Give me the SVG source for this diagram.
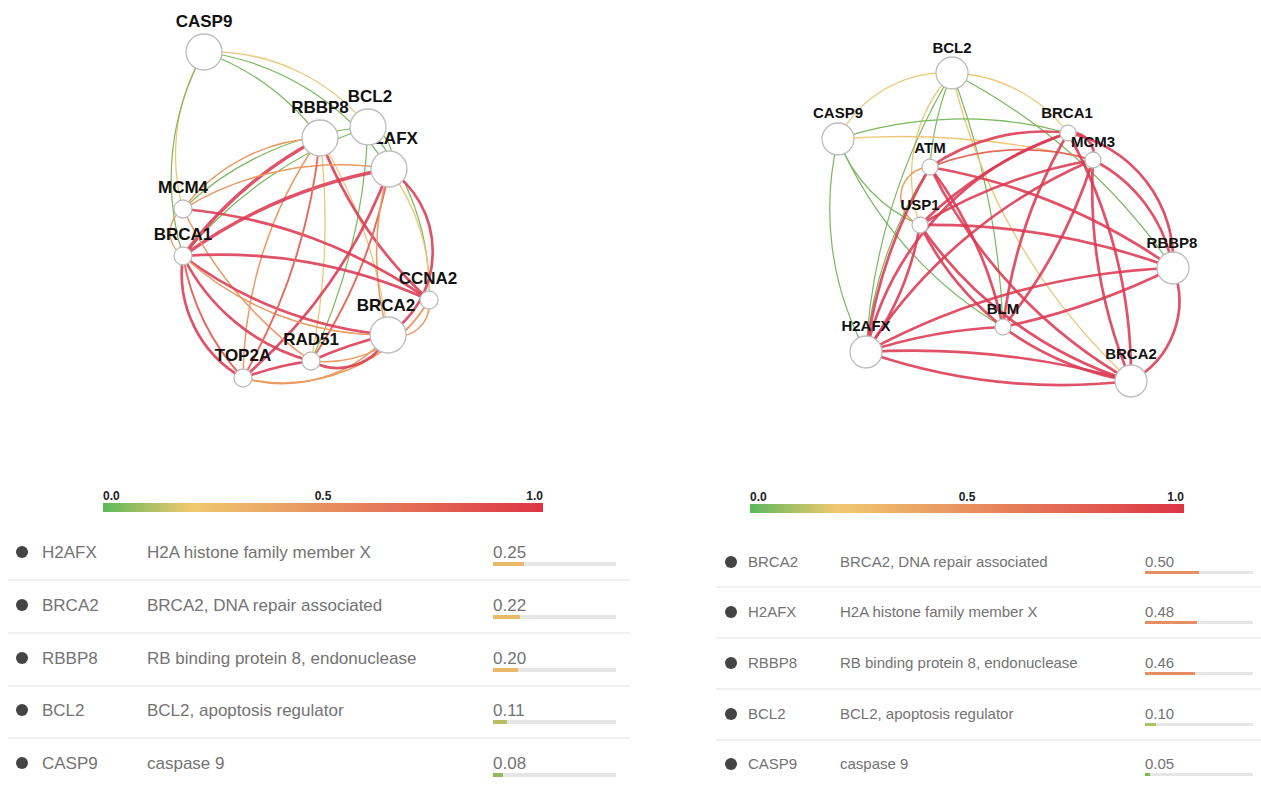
<svg xmlns="http://www.w3.org/2000/svg" width="1261" height="787" viewBox="0 0 1261 787">
<defs>
<linearGradient id="grad" x1="0" y1="0" x2="1" y2="0">
<stop offset="0" stop-color="#5cb85c"/>
<stop offset="0.2" stop-color="#f0c96f"/>
<stop offset="0.5" stop-color="#e8915f"/>
<stop offset="1" stop-color="#dc3545"/>
</linearGradient>
<style>
.e{fill:none;stroke-linecap:round}
.g{stroke:#7ab85e;stroke-width:1.2}
.y{stroke:#edc777;stroke-width:1.3}
.o{stroke:#eb9a62;stroke-width:1.5}
.ro{stroke:#e66a5c;stroke-width:1.9}
.r{stroke:#dc3a52;stroke-width:2.7;stroke-opacity:0.88}
.rt{stroke:#dc3a52;stroke-width:3.4;stroke-opacity:0.88}
.n{fill:#fff;stroke:#bdbdbd;stroke-width:1.3}
.lbl{font-family:"Liberation Sans",Arial,sans-serif;font-weight:bold;fill:#111;text-anchor:middle}
.l1{font-size:17px}
.l2{font-size:15px}
.leg{font-family:"Liberation Sans",Arial,sans-serif;font-weight:bold;font-size:12px;fill:#222}
.t{font-family:"Liberation Sans",Arial,sans-serif;fill:#737373}
.t1{font-size:17px}
.t2{font-size:15px}
.dot{fill:#444}
.sep{stroke:#ececec;stroke-width:1.5}
.track{fill:#e6e6e6}
</style>
</defs>
<rect width="1261" height="787" fill="#fff"/>

<!-- LEFT GRAPH -->
<g id="left-edges">
<path class="e y" d="M204 52 A200 200 0 0 1 368 127"/>
<path class="e g" d="M204 52 A250 250 0 0 1 320 138"/>
<path class="e g" d="M204 52 A260 260 0 0 1 389 169"/>
<path class="e y" d="M204 52 A200 200 0 0 0 183 209"/>
<path class="e g" d="M204 52 A260 260 0 0 0 183 256"/>
<path class="e g" d="M368 127 A30 30 0 0 1 389 169"/>
<path class="e g" d="M368 127 A250 250 0 0 1 429 300"/>
<path class="e y" d="M389 169 A200 200 0 0 1 429 300"/>
<path class="e g" d="M368 127 A300 300 0 0 0 183 209"/>
<path class="e g" d="M368 127 A420 420 0 0 0 183 256"/>
<path class="e g" d="M368 127 A600 600 0 0 1 311 361"/>
<path class="e o" d="M320 138 A180 180 0 0 0 183 209"/>
<path class="e rt" d="M320 138 A400 400 0 0 0 183 256"/>
<path class="e y" d="M320 138 A700 700 0 0 1 311 361"/>
<path class="e o" d="M320 138 A420 420 0 0 0 243 378"/>
<path class="e y" d="M320 138 A500 500 0 0 1 388 335"/>
<path class="e r" d="M320 138 A420 420 0 0 0 429 300"/>
<path class="e o" d="M389 169 A300 300 0 0 0 183 209"/>
<path class="e rt" d="M389 169 A500 500 0 0 0 183 256"/>
<path class="e r" d="M389 169 A500 500 0 0 1 243 378"/>
<path class="e ro" d="M389 169 A500 500 0 0 1 311 361"/>
<path class="e r" d="M389 169 A100 100 0 0 1 388 335"/>
<path class="e o" d="M389 169 A300 300 0 0 0 388 335"/>
<path class="e o" d="M183 209 A28 28 0 0 0 183 256"/>
<path class="e r" d="M183 209 A500 500 0 0 1 429 300"/>
<path class="e o" d="M183 209 A400 400 0 0 0 311 361"/>
<path class="e r" d="M183 256 A400 400 0 0 0 388 335"/>
<path class="e r" d="M183 256 A500 500 0 0 1 429 300"/>
<path class="e r" d="M183 256 A200 200 0 0 0 311 361"/>
<path class="e r" d="M183 256 A120 120 0 0 0 243 378"/>
<path class="e ro" d="M183 256 A240 240 0 0 0 243 378"/>
<path class="e o" d="M183 256 A300 300 0 0 0 388 335"/>
<path class="e r" d="M243 378 A300 300 0 0 1 311 361"/>
<path class="e o" d="M243 378 A140 140 0 0 0 388 335"/>
<path class="e o" d="M243 378 A170 170 0 0 0 429 300"/>
<path class="e ro" d="M243 378 A600 600 0 0 0 320 138"/>
<path class="e r" d="M311 361 A400 400 0 0 1 388 335"/>
<path class="e r" d="M311 361 A55 55 0 0 0 388 335"/>
<path class="e o" d="M311 361 A120 120 0 0 0 429 300"/>
<path class="e o" d="M388 335 A32 32 0 0 0 429 300"/>
</g>

<g id="L-CASP9"><circle class="n" cx="204" cy="52" r="18"/><text class="lbl l1" x="204" y="27">CASP9</text></g>
<g id="L-RBBP8"><circle class="n" cx="320" cy="138" r="18"/><text class="lbl l1" x="320" y="113">RBBP8</text></g>
<g id="L-H2AFX"><circle class="n" cx="389" cy="169" r="18"/><text class="lbl l1" x="390" y="144">H2AFX</text></g>
<g id="L-BCL2"><circle class="n" cx="368" cy="127" r="18"/><text class="lbl l1" x="370" y="102">BCL2</text></g>
<g id="L-MCM4"><circle class="n" cx="183" cy="209" r="9"/><text class="lbl l1" x="183" y="193">MCM4</text></g>
<g id="L-BRCA1"><circle class="n" cx="183" cy="256" r="9"/><text class="lbl l1" x="183" y="240">BRCA1</text></g>
<g id="L-CCNA2"><circle class="n" cx="429" cy="300" r="9"/><text class="lbl l1" x="428" y="284">CCNA2</text></g>
<g id="L-BRCA2"><circle class="n" cx="388" cy="335" r="18"/><text class="lbl l1" x="386" y="311">BRCA2</text></g>
<g id="L-RAD51"><circle class="n" cx="311" cy="361" r="9"/><text class="lbl l1" x="311" y="345">RAD51</text></g>
<g id="L-TOP2A"><circle class="n" cx="243" cy="378" r="9"/><text class="lbl l1" x="243" y="361">TOP2A</text></g>

<!-- RIGHT GRAPH -->
<g id="right-edges">
<path class="e y" d="M952 73 A120 120 0 0 0 838 139"/>
<path class="e y" d="M952 73 A150 150 0 0 1 1068 133"/>
<path class="e g" d="M952 73 A300 300 0 0 0 930 167"/>
<path class="e y" d="M952 73 A150 150 0 0 0 920 225"/>
<path class="e g" d="M952 73 A600 600 0 0 0 866 352"/>
<path class="e g" d="M952 73 A800 800 0 0 1 1003 327"/>
<path class="e y" d="M952 73 A600 600 0 0 0 1131 381"/>
<path class="e g" d="M952 73 A600 600 0 0 1 1173 268"/>
<path class="e g" d="M838 139 A400 400 0 0 1 1068 133"/>
<path class="e y" d="M838 139 A800 800 0 0 1 1093 160"/>
<path class="e g" d="M838 139 A300 300 0 0 0 866 352"/>
<path class="e g" d="M838 139 A150 150 0 0 0 920 225"/>
<path class="e g" d="M838 139 A400 400 0 0 0 1003 327"/>
<path class="e o" d="M930 167 A30 30 0 0 0 920 225"/>
<path class="e g" d="M930 167 A400 400 0 0 0 866 352"/>
<path class="e ro" d="M1093 160 A250 250 0 0 0 930 167"/>
<path class="e r" d="M1068 133 A22 22 0 0 1 1093 160"/>
<path class="e r" d="M1068 133 A200 200 0 0 0 930 167"/>
<path class="e r" d="M1068 133 A400 400 0 0 0 920 225"/>
<path class="e r" d="M1068 133 A300 300 0 0 0 866 352"/>
<path class="e r" d="M1068 133 A500 500 0 0 0 1003 327"/>
<path class="e r" d="M1068 133 A500 500 0 0 1 1131 381"/>
<path class="e r" d="M1068 133 A130 130 0 0 1 1173 268"/>
<path class="e r" d="M1093 160 A500 500 0 0 0 920 225"/>
<path class="e r" d="M1093 160 A500 500 0 0 0 866 352"/>
<path class="e r" d="M1093 160 A500 500 0 0 1 1003 327"/>
<path class="e r" d="M1093 160 A500 500 0 0 0 1131 381"/>
<path class="e r" d="M1093 160 A150 150 0 0 1 1173 268"/>
<path class="e r" d="M930 167 A500 500 0 0 0 1131 381"/>
<path class="e r" d="M930 167 A600 600 0 0 1 1173 268"/>
<path class="e r" d="M930 167 A400 400 0 0 1 1003 327"/>
<path class="e r" d="M930 167 A500 500 0 0 0 866 352"/>
<path class="e r" d="M920 225 A700 700 0 0 1 1173 268"/>
<path class="e r" d="M920 225 A400 400 0 0 0 1131 381"/>
<path class="e r" d="M920 225 A300 300 0 0 0 1003 327"/>
<path class="e r" d="M920 225 A300 300 0 0 1 866 352"/>
<path class="e r" d="M1003 327 A700 700 0 0 0 1173 268"/>
<path class="e r" d="M866 352 A700 700 0 0 1 1173 268"/>
<path class="e r" d="M1003 327 A500 500 0 0 0 866 352"/>
<path class="e r" d="M1003 327 A300 300 0 0 0 1131 381"/>
<path class="e r" d="M866 352 A800 800 0 0 1 1131 381"/>
<path class="e r" d="M866 352 A600 600 0 0 0 1131 381"/>
<path class="e r" d="M1173 268 A90 90 0 0 1 1131 381"/>
</g>

<g id="R-BCL2"><circle class="n" cx="952" cy="73" r="16"/><text class="lbl l2" x="952" y="53">BCL2</text></g>
<g id="R-CASP9"><circle class="n" cx="838" cy="139" r="16"/><text class="lbl l2" x="838" y="118">CASP9</text></g>
<g id="R-BRCA1"><circle class="n" cx="1068" cy="133" r="8"/><text class="lbl l2" x="1067" y="118">BRCA1</text></g>
<g id="R-MCM3"><circle class="n" cx="1093" cy="160" r="8"/><text class="lbl l2" x="1093" y="147">MCM3</text></g>
<g id="R-ATM"><circle class="n" cx="930" cy="167" r="8"/><text class="lbl l2" x="930" y="153">ATM</text></g>
<g id="R-USP1"><circle class="n" cx="920" cy="225" r="8"/><text class="lbl l2" x="920" y="210">USP1</text></g>
<g id="R-RBBP8"><circle class="n" cx="1173" cy="268" r="16"/><text class="lbl l2" x="1172" y="248">RBBP8</text></g>
<g id="R-BLM"><circle class="n" cx="1003" cy="327" r="8"/><text class="lbl l2" x="1003" y="314">BLM</text></g>
<g id="R-H2AFX"><circle class="n" cx="866" cy="352" r="16"/><text class="lbl l2" x="866" y="331">H2AFX</text></g>
<g id="R-BRCA2"><circle class="n" cx="1131" cy="381" r="16"/><text class="lbl l2" x="1131" y="359">BRCA2</text></g>

<!-- LEGENDS -->
<g id="legend-left">
<rect x="103" y="503" width="440" height="9" fill="url(#grad)"/>
<text class="leg" x="103" y="500">0.0</text>
<text class="leg" x="323" y="500" text-anchor="middle">0.5</text>
<text class="leg" x="543" y="500" text-anchor="end">1.0</text>
</g>
<g id="legend-right">
<rect x="750" y="504" width="434" height="9" fill="url(#grad)"/>
<text class="leg" x="750" y="501">0.0</text>
<text class="leg" x="967" y="501" text-anchor="middle">0.5</text>
<text class="leg" x="1184" y="501" text-anchor="end">1.0</text>
</g>

<!-- LEFT TABLE -->
<g id="table-left">
<line class="sep" x1="8" y1="580" x2="630" y2="580"/>
<line class="sep" x1="8" y1="633" x2="630" y2="633"/>
<line class="sep" x1="8" y1="686" x2="630" y2="686"/>
<line class="sep" x1="8" y1="738" x2="630" y2="738"/>
<g id="lrow1"><circle class="dot" cx="22" cy="552" r="6"/><text class="t t1" x="42" y="558">H2AFX</text><text class="t t1" x="147" y="558">H2A histone family member X</text><text class="t t1" x="493" y="558">0.25</text><rect class="track" x="493" y="562" width="123" height="4"/><rect x="493" y="562" width="31" height="4" fill="#e9b96b"/></g>
<g id="lrow2"><circle class="dot" cx="22" cy="605" r="6"/><text class="t t1" x="42" y="611">BRCA2</text><text class="t t1" x="147" y="611">BRCA2, DNA repair associated</text><text class="t t1" x="493" y="611">0.22</text><rect class="track" x="493" y="615" width="123" height="4"/><rect x="493" y="615" width="27" height="4" fill="#e9b96b"/></g>
<g id="lrow3"><circle class="dot" cx="22" cy="658" r="6"/><text class="t t1" x="42" y="664">RBBP8</text><text class="t t1" x="147" y="664">RB binding protein 8, endonuclease</text><text class="t t1" x="493" y="664">0.20</text><rect class="track" x="493" y="668" width="123" height="4"/><rect x="493" y="668" width="25" height="4" fill="#e9b96b"/></g>
<g id="lrow4"><circle class="dot" cx="22" cy="710" r="6"/><text class="t t1" x="42" y="716">BCL2</text><text class="t t1" x="147" y="716">BCL2, apoptosis regulator</text><text class="t t1" x="493" y="716">0.11</text><rect class="track" x="493" y="720" width="123" height="4"/><rect x="493" y="720" width="14" height="4" fill="#b7bf62"/></g>
<g id="lrow5"><circle class="dot" cx="22" cy="763" r="6"/><text class="t t1" x="42" y="769">CASP9</text><text class="t t1" x="147" y="769">caspase 9</text><text class="t t1" x="493" y="769">0.08</text><rect class="track" x="493" y="773" width="123" height="4"/><rect x="493" y="773" width="10" height="4" fill="#8fba5e"/></g>
</g>

<!-- RIGHT TABLE -->
<g id="table-right">
<line class="sep" x1="716" y1="587" x2="1261" y2="587"/>
<line class="sep" x1="716" y1="638" x2="1261" y2="638"/>
<line class="sep" x1="716" y1="689" x2="1261" y2="689"/>
<line class="sep" x1="716" y1="740" x2="1261" y2="740"/>
<g id="rrow1"><circle class="dot" cx="731" cy="562" r="6"/><text class="t t2" x="748" y="567">BRCA2</text><text class="t t2" x="840" y="567">BRCA2, DNA repair associated</text><text class="t t2" x="1145" y="567">0.50</text><rect class="track" x="1145" y="571" width="108" height="3"/><rect x="1145" y="571" width="54" height="3" fill="#e68f64"/></g>
<g id="rrow2"><circle class="dot" cx="731" cy="612" r="6"/><text class="t t2" x="748" y="617">H2AFX</text><text class="t t2" x="840" y="617">H2A histone family member X</text><text class="t t2" x="1145" y="617">0.48</text><rect class="track" x="1145" y="621" width="108" height="3"/><rect x="1145" y="621" width="52" height="3" fill="#e68f64"/></g>
<g id="rrow3"><circle class="dot" cx="731" cy="663" r="6"/><text class="t t2" x="748" y="668">RBBP8</text><text class="t t2" x="840" y="668">RB binding protein 8, endonuclease</text><text class="t t2" x="1145" y="668">0.46</text><rect class="track" x="1145" y="672" width="108" height="3"/><rect x="1145" y="672" width="50" height="3" fill="#e68f64"/></g>
<g id="rrow4"><circle class="dot" cx="731" cy="714" r="6"/><text class="t t2" x="748" y="719">BCL2</text><text class="t t2" x="840" y="719">BCL2, apoptosis regulator</text><text class="t t2" x="1145" y="719">0.10</text><rect class="track" x="1145" y="723" width="108" height="3"/><rect x="1145" y="723" width="11" height="3" fill="#a9c262"/></g>
<g id="rrow5"><circle class="dot" cx="731" cy="764" r="6"/><text class="t t2" x="748" y="769">CASP9</text><text class="t t2" x="840" y="769">caspase 9</text><text class="t t2" x="1145" y="769">0.05</text><rect class="track" x="1145" y="773" width="108" height="3"/><rect x="1145" y="773" width="5" height="3" fill="#7cb854"/></g>
</g>
</svg>
